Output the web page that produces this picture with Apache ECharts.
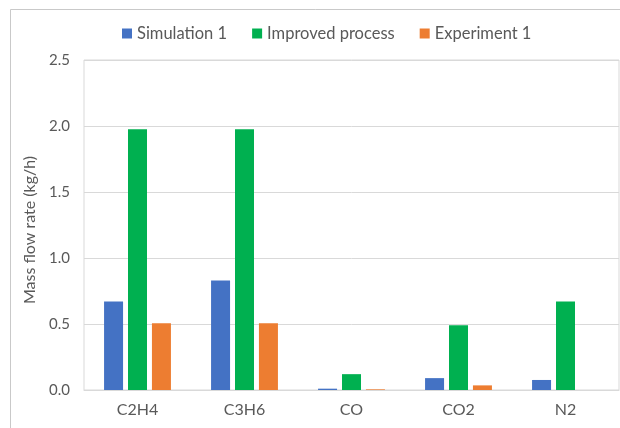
<!DOCTYPE html>
<html>
<head>
<meta charset="utf-8">
<script src="https://cdn.jsdelivr.net/npm/echarts@6/dist/echarts.min.js"></script>
<style>
  html, body { margin: 0; padding: 0; background: #fff; }
  #chart { width: 620px; height: 428px; }
</style>
</head>
<body>
<div id="chart"></div>
<script>
// gases along the x axis
const categories = ['C2H4', 'C3H6', 'CO', 'CO2', 'N2']
const yTicks = [0, 0.5, 1.0, 1.5, 2.0, 2.5]

// mass flow rates (kg/h)
const simulation1 = [0.67, 0.83, 0.01, 0.09, 0.076]
const improvedProcess = [1.975, 1.975, 0.12, 0.49, 0.67]
const experiment1 = [0.505, 0.505, 0.005, 0.035, null]

const textColor = '#595959'
const fontFamily = 'Lato, "Liberation Sans", sans-serif'

const chart = echarts.init(document.getElementById('chart'), null, { renderer: 'canvas' })

chart.setOption({
  animation: false,
  backgroundColor: '#fff',
  textStyle: { fontFamily },
  graphic: [
    {
      type: 'rect',
      shape: { x: 10.5, y: 9.5, width: 640, height: 440 },
      style: { fill: 'none', stroke: '#c9c9c9', lineWidth: 1 },
      silent: true
    }
  ],
  legend: {
    top: 20,
    left: 117,
    itemWidth: 10,
    itemHeight: 10,
    itemGap: 25,
    icon: 'rect',
    textStyle: { color: textColor, fontSize: 16.5, fontFamily }
  },
  grid: {
    left: 84,
    right: 1,
    top: 60,
    bottom: 38,
    show: true,
    borderColor: '#d9d9d9',
    borderWidth: 1
  },
  xAxis: {
    type: 'category',
    data: categories,
    axisTick: { show: false },
    axisLine: { lineStyle: { color: '#d9d9d9' } },
    axisLabel: { color: textColor, fontSize: 16, margin: 12, fontFamily }
  },
  yAxis: {
    type: 'value',
    min: yTicks[0],
    max: yTicks[yTicks.length - 1],
    interval: 0.5,
    name: 'Mass flow rate (kg/h)',
    nameLocation: 'middle',
    nameGap: 42,
    // 把轴标题往下挪一点，和原图对齐
    nameTextStyle: { color: textColor, fontSize: 16, fontFamily, padding: [0, 10, 0, 0] },
    axisLine: { show: false },
    axisTick: { show: false },
    splitLine: { lineStyle: { color: '#d9d9d9' } },
    axisLabel: {
      color: textColor,
      fontSize: 15,
      margin: 14,
      fontFamily,
      formatter: v => v.toFixed(1)
    }
  },
  series: [
    {
      name: 'Simulation 1',
      type: 'bar',
      data: simulation1,
      itemStyle: { color: '#4472C4' },
      barWidth: 19,
      barGap: '26%'
    },
    {
      name: 'Improved process',
      type: 'bar',
      data: improvedProcess,
      itemStyle: { color: '#00B050' },
      barWidth: 19,
      barGap: '26%'
    },
    {
      name: 'Experiment 1',
      type: 'bar',
      data: experiment1,
      itemStyle: { color: '#ED7D31' },
      barWidth: 19,
      barGap: '26%'
    }
  ]
})
</script>
</body>
</html>
